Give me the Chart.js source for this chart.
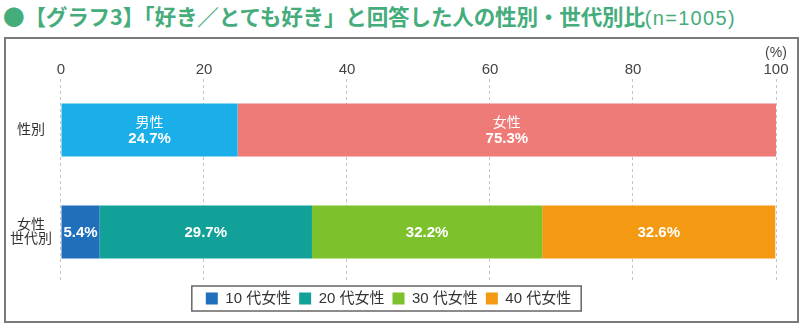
<!DOCTYPE html>
<html>
<head>
<meta charset="utf-8">
<script src="https://cdn.jsdelivr.net/npm/chart.js@4"></script>
<style>
  html, body { margin: 0; padding: 0; background: #fff; width: 800px; height: 326px; overflow: hidden; }
  #title { position: absolute; left: 3px; top: 1px; white-space: nowrap; color: #45ad7c;
    font-family: "Noto Sans CJK JP", sans-serif; font-weight: 700; font-size: 21.6px; line-height: 30px; letter-spacing: -0.2px; }
  #title span { font-weight: 400; font-size: 20px; letter-spacing: 1.3px; font-family: "Liberation Sans", "Noto Sans CJK JP", sans-serif; }
  #frame { position: absolute; left: 4px; top: 37px; width: 791px; height: 282px; border: 2px solid #7a7a7a; }
  #c { position: absolute; left: 0; top: 0; }
</style>
</head>
<body>
<div id="title">●【グラフ3】「好き／とても好き」と回答した人の性別・世代別比<span>(n=1005)</span></div>
<div id="frame"></div>
<canvas id="c" width="800" height="326"></canvas>
<script>
const categories = ['性別', ['女性', '世代別']];
const genderNames = ['男性', '女性'];
const genderValues = [24.7, 75.3];
const ageNames = ['10 代女性', '20 代女性', '30 代女性', '40 代女性'];
const ageValues = [5.4, 29.7, 32.2, 32.6];
const xTicks = [0, 20, 40, 60, 80, 100];
const unitLabel = '(%)';

const genderColors = ['#1aafe9', '#ee7b78'];
const ageColors = ['#1f6fba', '#12a199', '#7dc12c', '#f49a12'];
const FONT = "'Liberation Sans', 'Noto Sans CJK JP', sans-serif";

const datasets = [];
genderNames.forEach((n, i) => datasets.push({
  label: n, data: [genderValues[i], null], backgroundColor: genderColors[i],
  _group: 'gender', _showName: true
}));
ageNames.forEach((n, i) => datasets.push({
  label: n, data: [null, ageValues[i]], backgroundColor: ageColors[i],
  _group: 'age', _showName: false
}));
datasets.forEach(d => { d.barPercentage = 0.52; d.categoryPercentage = 1; d.borderWidth = 0; });

const valueLabels = {
  id: 'valueLabels',
  afterDatasetsDraw(chart) {
    const ctx = chart.ctx;
    ctx.save();
    ctx.fillStyle = '#fff';
    ctx.textAlign = 'center';
    ctx.textBaseline = 'middle';
    chart.data.datasets.forEach((ds, di) => {
      const meta = chart.getDatasetMeta(di);
      meta.data.forEach((el, i) => {
        const v = ds.data[i];
        if (v == null) return;
        const cx = (el.x + el.base) / 2;
        const cy = el.y;
        if (ds._showName) {
          ctx.font = '14px ' + FONT;
          ctx.fillText(ds.label, cx, cy - 7);
          ctx.font = 'bold 15px ' + FONT;
          ctx.fillText(v.toFixed(1) + '%', cx, cy + 9);
        } else {
          ctx.font = 'bold 15px ' + FONT;
          ctx.fillText(v.toFixed(1) + '%', cx, cy + 1);
        }
      });
    });
    ctx.restore();
  }
};

const unitAndLegendBox = {
  id: 'unitAndLegendBox',
  afterDraw(chart) {
    const ctx = chart.ctx;
    const xs = chart.scales.x;
    ctx.save();
    ctx.fillStyle = '#444';
    ctx.font = '14px ' + FONT;
    ctx.textAlign = 'center';
    ctx.textBaseline = 'middle';
    ctx.fillText(unitLabel, xs.getPixelForValue(xTicks[xTicks.length - 1]), 53);
    const lg = chart.legend;
    if (lg && lg.legendHitBoxes && lg.legendHitBoxes.length) {
      const hb = lg.legendHitBoxes;
      const l = Math.min(...hb.map(b => b.left)) - 14;
      const r = Math.max(...hb.map(b => b.left + b.width)) + 10;
      const t = Math.min(...hb.map(b => b.top)) - 5;
      const btm = Math.max(...hb.map(b => b.top + b.height)) + 5;
      ctx.strokeStyle = '#666';
      ctx.lineWidth = 1.5;
      ctx.strokeRect(l, t, r - l, btm - t);
    }
    ctx.restore();
  }
};

new Chart(document.getElementById('c'), {
  type: 'bar',
  data: { labels: categories, datasets },
  options: {
    indexAxis: 'y',
    responsive: false,
    animation: false,
    layout: { padding: { left: 1, right: 24, top: 61, bottom: 10 } },
    scales: {
      x: {
        position: 'top', stacked: true, min: 0, max: 100,
        afterBuildTicks(scale) { scale.ticks = xTicks.map(v => ({ value: v })); },
        ticks: { color: '#444', font: { family: FONT, size: 15 }, padding: 0 },
        grid: { color: '#c4c4c4', lineWidth: 1, drawTicks: false },
        border: { display: false, dash: [3, 3] }
      },
      y: {
        stacked: true,
        grid: { display: false, drawTicks: false },
        border: { display: false },
        ticks: { color: '#333', font: { family: FONT, size: 14, lineHeight: 1.05 }, crossAlign: 'center', padding: 9 }
      }
    },
    plugins: {
      legend: {
        position: 'bottom',
        labels: {
          filter: (item, data) => data.datasets[item.datasetIndex]._group === 'age',
          boxWidth: 12, boxHeight: 12, color: '#333', padding: 8,
          font: { family: FONT, size: 15 }
        }
      },
      tooltip: { enabled: false }
    }
  },
  plugins: [valueLabels, unitAndLegendBox]
});
</script>
</body>
</html>
